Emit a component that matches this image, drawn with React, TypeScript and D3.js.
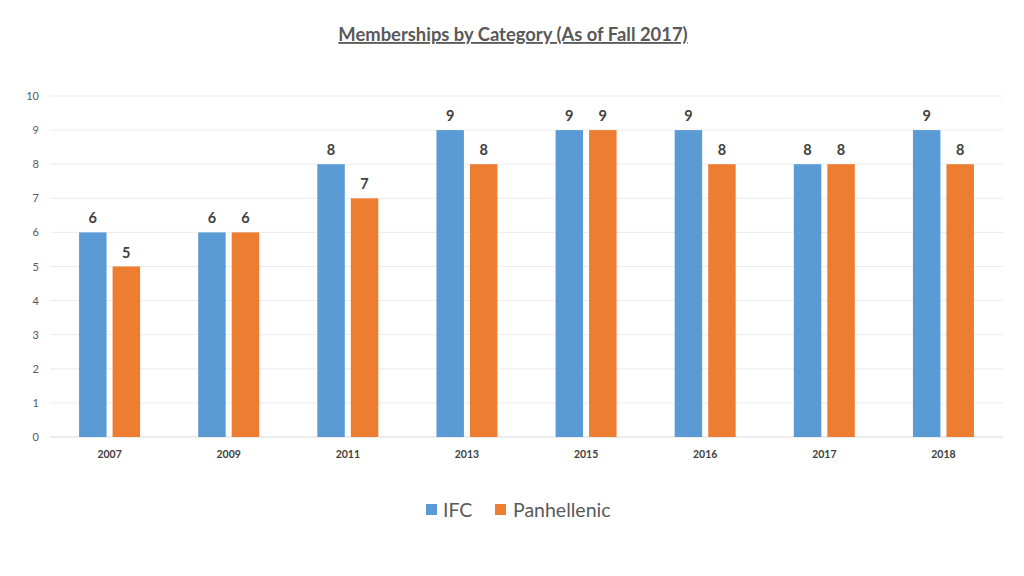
import React from "react";
import * as d3 from "d3";

const categories = ["2007", "2009", "2011", "2013", "2015", "2016", "2017", "2018"];
const ifc = [6, 6, 8, 9, 9, 9, 8, 9];
const panhellenic = [5, 6, 7, 8, 9, 8, 8, 8];
const seriesNames = ["IFC", "Panhellenic"];
const yTicks = [0, 1, 2, 3, 4, 5, 6, 7, 8, 9, 10];

const W = 1024, H = 576;
const colors = ["#5B9BD5", "#ED7D31"];
const font = "Lato, 'Open Sans', sans-serif";

export default function App() {
  const x = d3.scaleBand().domain(categories).range([50, 1003]);
  const y = d3.scaleLinear().domain([0, 10]).range([437, 96]);
  const inner = d3.scaleBand().domain(seriesNames).range([0, 61]).paddingInner(0.18);
  const series = [ifc, panhellenic];
  return (
    <svg width={W} height={H} style={{ position: "absolute", left: 0, top: 0, background: "#fff" }}>
      <text x={513} y={41} textAnchor="middle" fontFamily={font} fontWeight="bold" fontSize={18.4} fill="#595959" textDecoration="underline">
        Memberships by Category (As of Fall 2017)
      </text>
      {yTicks.map((t) => (
        <g key={t}>
          <line x1={50} x2={1003} y1={y(t)} y2={y(t)} stroke={t === 0 ? "#d9d9d9" : "#ececec"} strokeWidth={1} />
          <text x={39} y={y(t) + 4} textAnchor="end" fontFamily={font} fontSize={11} fill="#595959">{t}</text>
        </g>
      ))}
      {categories.map((c, i) => {
        const cx = (x(c) as number) + x.bandwidth() / 2;
        return (
          <g key={c}>
            {series.map((s, j) => {
              const bx = cx - 30.5 + (inner(seriesNames[j]) as number);
              return (
                <g key={j}>
                  <rect x={bx} y={y(s[i])} width={inner.bandwidth()} height={y(0) - y(s[i])} fill={colors[j]} />
                  <text x={bx + inner.bandwidth() / 2} y={y(s[i]) - 9} textAnchor="middle" fontFamily={font} fontWeight="bold" fontSize={14.5} fill="#404040">{s[i]}</text>
                </g>
              );
            })}
            <text x={cx} y={458} textAnchor="middle" fontFamily={font} fontWeight="bold" fontSize={10.5} fill="#404040">{c}</text>
          </g>
        );
      })}
      <g>
        <rect x={426} y={504} width={11} height={11} fill={colors[0]} />
        <text x={443} y={517} fontFamily={font} fontSize={19.5} fill="#595959">IFC</text>
        <rect x={495} y={504} width={11} height={11} fill={colors[1]} />
        <text x={513} y={517} fontFamily={font} fontSize={19.5} fill="#595959">Panhellenic</text>
      </g>
    </svg>
  );
}
